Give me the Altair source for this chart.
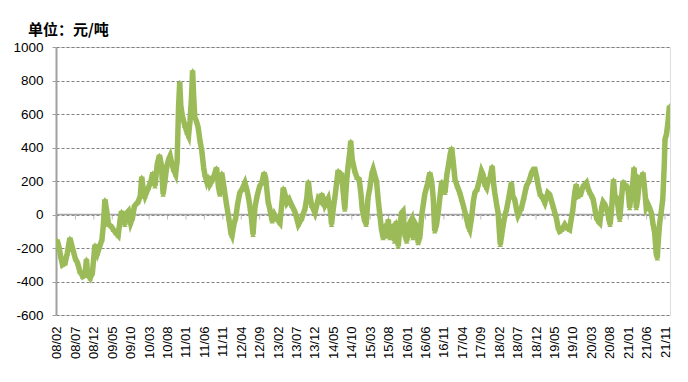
import altair as alt
import pandas as pd

# month offsets since 2008-02 (0 = 2008/02) and spread values (元/吨)
months = [
    0, 0.5, 1, 1.5, 2.2, 2.8, 3.5, 4.2, 5, 5.6, 6.2, 7, 7.6, 8, 8.3, 9, 9.6, 10.3, 11, 11.6,
    12.2, 12.6, 13, 13.5, 14, 14.7, 15.3, 16, 16.6, 17.2, 17.5, 18, 18.4, 19, 19.4, 20, 20.5, 21, 22, 22.6,
    23, 23.4, 23.9, 24.8, 25.5, 26, 26.6, 27.2, 27.8, 28.3, 28.8, 29.3, 29.8, 30.3, 30.7, 31.2, 31.6, 32.2, 32.6, 33,
    33.3, 33.6, 34, 34.7, 35.3, 35.7, 36.1, 36.5, 36.8, 37.1, 37.4, 37.8, 38.3, 38.8, 39.3, 39.8, 40.1, 40.6, 41, 41.5,
    42, 42.6, 43.3, 43.8, 44.2, 44.7, 45.2, 46, 46.6, 47.2, 47.5, 48, 48.5, 49, 49.6, 50.2, 51, 51.5, 51.9, 52.4,
    52.8, 53.2, 53.7, 54.3, 55, 55.6, 56.2, 56.6, 57.3, 57.8, 58.4, 59, 59.6, 60.5, 61, 61.4, 62, 62.4, 63, 63.7,
    64.6, 65.5, 66.4, 67.3, 67.8, 68.2, 68.6, 69.1, 70, 70.9, 71.5, 71.8, 72.2, 72.7, 73.6, 74.2, 74.5, 75, 75.4, 75.9,
    76.3, 76.8, 77.2, 77.6, 78.1, 78.6, 79, 79.5, 79.7, 80.1, 80.8, 81.4, 82, 82.5, 82.8, 83.4, 83.9, 84.4, 84.9, 85.5,
    85.8, 86.3, 86.7, 87.2, 87.6, 88, 88.5, 89, 89.5, 89.9, 90.4, 91.2, 91.6, 92.1, 92.6, 93.1, 93.5, 93.9, 94.4, 94.9,
    95.5, 96.2, 96.6, 97.1, 97.6, 98, 98.5, 99, 99.8, 100.5, 101.2, 101.7, 102.1, 102.5, 103, 103.6, 104.4, 104.9, 105.3, 105.8,
    106.2, 106.7, 107.1, 107.5, 108, 108.6, 109.3, 109.8, 110.3, 111.1, 111.6, 112, 112.5, 113, 113.4, 114, 114.7, 115.2, 115.6, 116.1,
    116.6, 117.1, 117.5, 118.1, 118.5, 118.8, 119.3, 119.7, 120.1, 120.3, 120.7, 121.1, 121.6, 122, 122.6, 123.3, 123.7, 124.2, 124.7, 125.1,
    125.6, 126, 126.7, 127.4, 128.1, 128.8, 129.3, 129.7, 130.2, 130.6, 131.1, 131.5, 132, 132.4, 133.2, 133.7, 134.2, 134.6, 135.1, 135.5,
    136, 136.4, 137, 137.8, 138.4, 139.1, 139.6, 140, 140.5, 140.9, 141.4, 142.1, 142.8, 143.3, 143.7, 144.2, 144.6, 145.1, 145.5, 146,
    146.4, 146.9, 147.3, 147.8, 148.2, 148.7, 149.2, 149.7, 150.1, 150.5, 151, 151.4, 151.9, 152.3, 152.7, 153.2, 153.6, 154.1, 154.5, 155,
    155.4, 155.9, 156.3, 156.6, 156.9, 157.2, 157.6, 158.1, 158.6, 159, 159.4, 159.9, 160.4, 160.8, 161.3, 161.7, 162.2, 162.6, 162.9, 163.2,
    163.5, 164, 164.4, 164.8, 165, 165.4, 165.8, 166.2, 166.3,
]
values = [
    -150, -190, -250, -300, -290, -230, -140, -200, -265, -290, -340, -370, -360, -265, -360, -380, -350, -180, -230, -190,
    -150, -60, 90, 20, -60, -70, -90, -110, -125, -20, 20, -20, -60, 10, 20, -50, -20, 50, 75, 110,
    225, 150, 110, 160, 200, 250, 170, 300, 355, 300, 120, 200, 290, 330, 350, 300, 270, 240, 320, 650,
    790, 650, 590, 530, 490, 470, 560, 700, 860, 700, 580, 560, 520, 440, 380, 280, 240, 200, 230, 180,
    200, 230, 280, 170, 120, 250, 180, 60, -20, -110, -125, -60, -20, 60, 130, 150, 190, 150, 110, 40,
    -30, -120, 40, 110, 170, 190, 250, 220, 75, 30, -40, 0, -25, -50, 60, 160, 110, 70, 90, 55,
    15, -60, -25, 35, 100, 200, 120, 55, 10, 95, 80, 125, 100, 55, 95, 20, -60, 40, 100, 190,
    265, 200, 250, 150, 30, 200, 290, 380, 440, 330, 260, 220, 210, 120, 40, -30, -60, 100, 160, 250,
    270, 230, 200, 80, 0, -80, -140, -60, -130, -30, -140, -60, -160, -40, -190, -60, 10, 20, -120, -160,
    -60, -30, -140, -50, -70, -170, -130, 0, 120, 180, 250, 190, 100, -100, -60, 40, 200, 160, 130, 240,
    290, 360, 400, 320, 210, 170, 130, 90, 50, -20, -70, -90, -20, 80, 130, 150, 210, 260, 240, 180,
    160, 210, 220, 290, 180, 130, 60, 10, -120, -180, -120, -60, 0, 30, 100, 190, 110, 90, 30, -5,
    20, 35, 100, 170, 200, 250, 270, 270, 220, 170, 120, 110, 90, 70, 130, 120, 80, 50, 10, -20,
    -80, -100, -90, -60, -80, -90, -20, 30, 130, 180, 110, 120, 170, 180, 190, 150, 130, 110, 90, 30,
    -20, -40, -50, 40, 75, 60, 30, -20, -60, 30, 210, 110, 100, 40, -30, 100, 200, 170, 170, 140,
    40, 140, 200, 280, 180, 40, 100, 210, 200, 250, 170, 40, 60, 40, 10, -50, -110, -230, -260, -150,
    -60, 20, 95, 300, 450, 480, 550, 650, 620,
]
tick_months = list(range(0, 166, 5))
tick_labels = [
    "08/02", "08/07", "08/12", "09/05", "09/10", "10/03", "10/08", "11/01", "11/06", "11/11",
    "12/04", "12/09", "13/02", "13/07", "13/12", "14/05", "14/10", "15/03", "15/08", "16/01",
    "16/06", "16/11", "17/04", "17/09", "18/02", "18/07", "18/12", "19/05", "19/10", "20/03",
    "20/08", "21/01", "21/06", "21/11",
]
y_ticks = [-600, -400, -200, 0, 200, 400, 600, 800, 1000]

df = pd.DataFrame({"m": months, "v": values})
ticks_df = pd.DataFrame({"m": tick_months, "v": [0] * len(tick_months)})
zero_df = pd.DataFrame({"v": [0]})

GREEN = "#9BBB59"
label_arr = "[" + ",".join("'" + t + "'" for t in tick_labels) + "]"

x_scale = alt.Scale(domain=[-0.27, 166.35], nice=False, zero=False)
y_scale = alt.Scale(domain=[-600, 1000], nice=False)

x_axis = alt.Axis(
    values=tick_months, labelExpr=label_arr + "[round(datum.value/5)]",
    labelAngle=-90, labelFontSize=13, labelFont="Liberation Sans", labelColor="#000000",
    domain=False, ticks=False, grid=False, labelPadding=11, title=None,
    labelOverlap=False, labelFlush=False, labelBound=False,
)
y_axis = alt.Axis(
    values=y_ticks, labelExpr="'' + datum.value", labelFontSize=13.5, labelFont="Liberation Sans",
    labelColor="#000000", domainColor="#A0A0A0", domainWidth=2, tickColor="#A0A0A0", tickSize=4,
    labelPadding=9, gridColor="#808080", gridDash=[3, 2], gridWidth=1, title=None,
    labelOverlap=False, labelFlush=False, labelBound=False,
)

X = alt.X("m:Q", scale=x_scale, axis=x_axis)
Y = alt.Y("v:Q", scale=y_scale, axis=y_axis)

base_line = alt.Chart(df).mark_line(color=GREEN, strokeWidth=5.5, clip=True).encode(x=X, y=Y)
points = alt.Chart(df).mark_point(
    shape="triangle-up", filled=True, color=GREEN, size=30, opacity=1, clip=True
).encode(x=X, y=Y)

zero_rule = alt.Chart(zero_df).mark_rule(color="#A6A6A6", strokeWidth=1.5).encode(y=Y)
zero_ticks = alt.Chart(ticks_df).mark_tick(
    orient="vertical", size=5, thickness=1, color="#A0A0A0", yOffset=2.5
).encode(x=X, y=Y)

chart = alt.layer(zero_rule, zero_ticks, base_line, points).properties(
    width=614, height=268,
    title=alt.TitleParams(
        "单位：元/吨", anchor="start", frame="group", dx=-28, offset=2,
        font="Noto Sans CJK SC", fontSize=15, fontWeight="bold", color="#000000",
    ),
    autosize=alt.AutoSizeParams(type="none"),
    padding={"left": 48, "top": 39, "right": 10, "bottom": 60},
).configure_view(stroke="#A39E6E", strokeWidth=1.5).configure(background="#FFFFFF")

chart.save("out.html", embed_options={"renderer": "svg", "actions": False})
